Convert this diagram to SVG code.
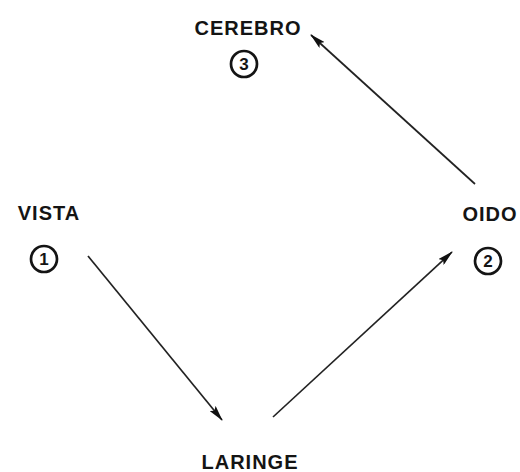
<svg xmlns="http://www.w3.org/2000/svg" width="520" height="472" viewBox="0 0 520 472">
<style>
.lbl{font-family:"Liberation Sans",Arial,sans-serif;font-weight:bold;font-size:20px;letter-spacing:1px;fill:#141414;text-anchor:middle}
.num{font-family:"Liberation Sans",Arial,sans-serif;font-weight:bold;font-size:17px;fill:#141414;text-anchor:middle}
.ring{fill:none;stroke:#141414;stroke-width:2.7}
.edge{stroke:#222;stroke-width:1.7;fill:none;marker-end:url(#ah)}
</style>
<defs>
<marker id="ah" viewBox="0 0 16 8" refX="15" refY="4" markerWidth="16" markerHeight="8" markerUnits="userSpaceOnUse" orient="auto">
<path d="M0,0 L16,4 L0,8 L3,4 Z" fill="#111"/>
</marker>
</defs>
<rect width="520" height="472" fill="#ffffff"/>
<g id="cerebro">
<text class="lbl" x="248" y="35">CEREBRO</text>
<circle class="ring" cx="244" cy="64" r="13"/>
<text class="num" x="244" y="70">3</text>
</g>
<g id="vista">
<text class="lbl" x="49" y="220">VISTA</text>
<circle class="ring" cx="44" cy="259" r="13"/>
<text class="num" x="44" y="265">1</text>
</g>
<g id="oido">
<text class="lbl" x="490" y="221">OIDO</text>
<circle class="ring" cx="488" cy="261" r="13"/>
<text class="num" x="488" y="267">2</text>
</g>
<g id="laringe">
<text class="lbl" x="250" y="469">LARINGE</text>
</g>
<g id="connectors">
<line class="edge" x1="88" y1="256" x2="222" y2="420"/>
<line class="edge" x1="273" y1="417" x2="452" y2="252"/>
<line class="edge" x1="475" y1="184" x2="311" y2="35"/>
</g>
</svg>
